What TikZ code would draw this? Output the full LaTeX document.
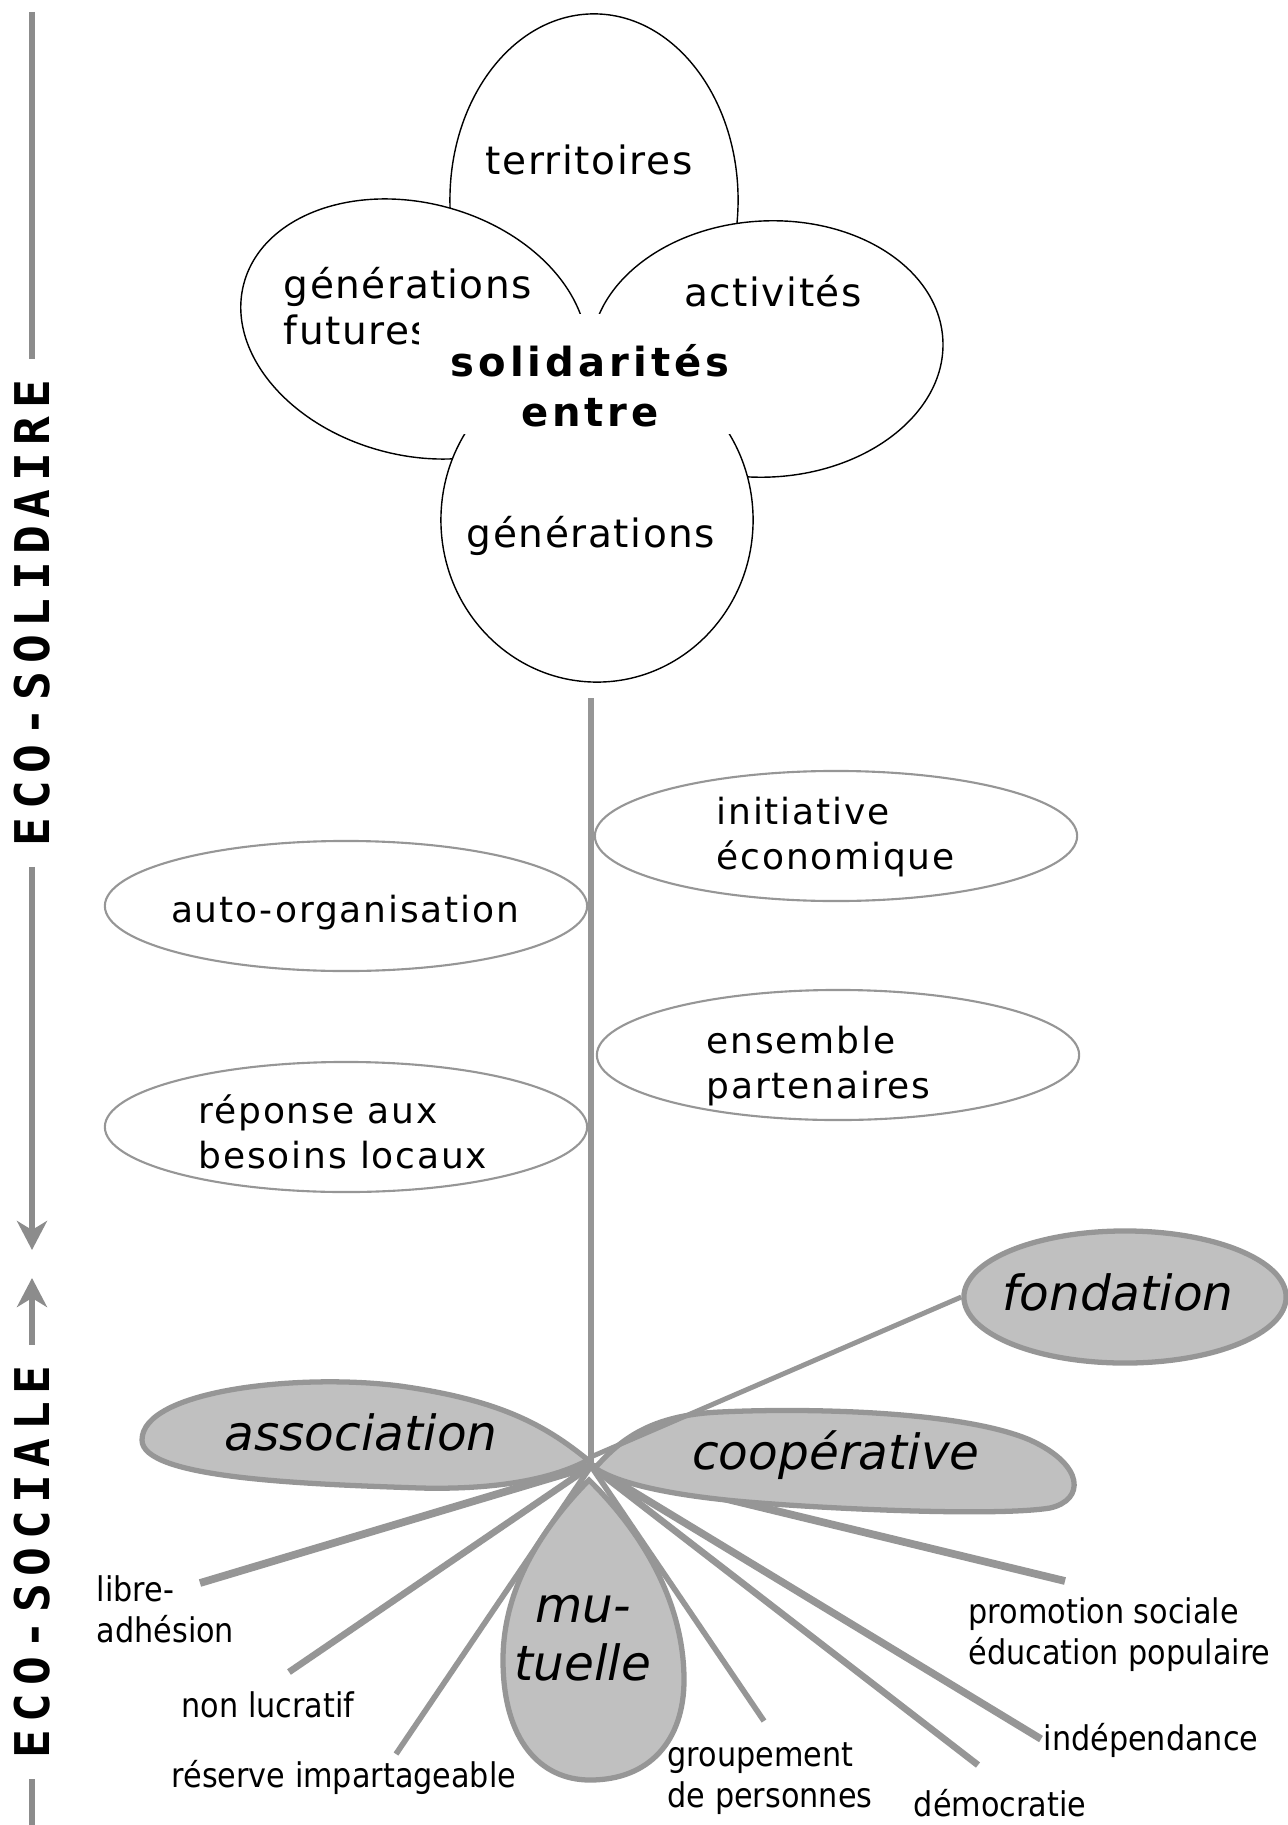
\documentclass[tikz,border=0pt]{standalone}
\usepackage{fontspec}
\setmainfont{DejaVu Sans}
\newfontfamily\flowerfont{DejaVu Sans}[LetterSpace=4]
\newfontfamily\heartfont{DejaVu Sans}[LetterSpace=10]
\newfontfamily\leaffont{DejaVu Sans}[LetterSpace=5]
\newfontfamily\rootfont{DejaVu Sans}[FakeStretch=0.89]
\newfontfamily\sidefont{DejaVu Sans Mono}[LetterSpace=16]
\usetikzlibrary{shapes.geometric, arrows.meta, positioning}
\definecolor{stemgray}{RGB}{150,150,150}
\definecolor{lobegray}{RGB}{192,192,192}
\definecolor{bargray}{RGB}{140,140,140}
\tikzset{
    petal/.style={ellipse, draw=black, line width=0.4pt, fill=white, inner sep=0pt},
    cover/.style={rectangle, fill=white, inner sep=0pt, minimum width=3.25cm, minimum height=1.20cm},
    petaltext/.style={inner sep=0pt, align=left, font=\flowerfont\fontsize{11.1}{13.1}\selectfont},
    heart/.style={inner sep=0pt, align=center, font=\heartfont\bfseries\fontsize{11.4}{14.2}\selectfont},
    leaf/.style={ellipse, draw=stemgray, line width=0.6pt, fill=white, inner sep=0pt,
        minimum width=4.82cm, minimum height=1.30cm},
    leaftext/.style={inner sep=0pt, align=left, font=\leaffont\fontsize{10.24}{12.8}\selectfont},
    stem/.style={draw=stemgray, line width=1.7pt},
    root/.style={draw=stemgray, line width=1.9pt},
    lobe/.style={draw=stemgray, line width=1.5pt, fill=lobegray},
    lobetext/.style={inner sep=0pt, align=center, font=\itshape\fontsize{13.8}{16.5}\selectfont},
    roottext/.style={inner sep=0pt, align=left, font=\rootfont\fontsize{9.67}{11.7}\selectfont},
    bar/.style={draw=bargray, line width=1.85pt},
    side/.style={rotate=90, inner sep=2mm, font=\sidefont\bfseries\fontsize{13.6}{15}\selectfont},
}

\begin{document}
\begin{tikzpicture}[x=0.01cm, y=-0.01cm]
    \useasboundingbox (0,0) rectangle (1287,1825);

    % scale on the left
    \coordinate (bartop) at (32,12);
    \coordinate (barbot) at (32,1825);
    \coordinate (downtip) at (32,1250);
    \coordinate (uptip) at (32,1278);
    \node[side] (ecosol) at (32,613) {ECO-SOLIDAIRE};
    \node[side] (ecosoc) at (32,1562) {ECO-SOCIALE};

    \draw[bar] (bartop) -- (ecosol);
    \draw[bar, -{Stealth[length=0.29cm, width=0.30cm, inset=0.09cm]}] (ecosol) -- (downtip);
    \draw[bar, -{Stealth[length=0.29cm, width=0.30cm, inset=0.09cm]}] (ecosoc) -- (uptip);
    \draw[bar] (ecosoc) -- (barbot);

    % flower
    \node[petal, minimum width=2.88cm, minimum height=3.72cm] (territoires) at (594,200) {};
    \node[petal, minimum width=3.52cm, minimum height=2.52cm, rotate=-15] (futures) at (414,329) {};
    \node[petal, minimum width=3.52cm, minimum height=2.56cm, rotate=3] (activites) at (767,349) {};
    \node[petal, minimum width=3.12cm, minimum height=3.24cm] (generations) at (597,520) {};

    \node[petaltext] (territoirestext) at (589,160) {territoires};
    \node[petaltext, anchor=west] (futurestext) at (283,306) {générations\\futures};
    \node[petaltext] (activitestext) at (773,291) {activités};
    \node[petaltext] (generationstext) at (591,536) {générations};

    \node[cover] (coeur) at (582,374) {};
    \node[heart] (solidarites) at (590,386) {solidarités\\entre};

    % stem and leaves
    \coordinate (stemtop) at (591,698);
    \coordinate (base) at (591,1466);
    \coordinate (fork) at (593,1456);
    \draw[stem] (stemtop) -- (base);

    \node[leaf] (initiative) at (836,836) {};
    \node[leaf] (auto) at (346,906) {};
    \node[leaf] (ensemble) at (838,1055) {};
    \node[leaf] (reponse) at (346,1127) {};

    \node[leaftext, anchor=west] (initiativetext) at (716,837) {initiative\\économique};
    \node[leaftext] (autotext) at (345,913) {auto-organisation};
    \node[leaftext, anchor=west] (ensembletext) at (706,1066) {ensemble\\partenaires};
    \node[leaftext, anchor=west] (reponsetext) at (198,1132) {réponse aux\\besoins locaux};

    % roots
    \coordinate (libreend) at (200,1583);
    \coordinate (lucratifend) at (289,1672);
    \coordinate (reserveend) at (396,1754);
    \coordinate (groupementend) at (764,1721);
    \coordinate (democratieend) at (978,1765);
    \coordinate (independanceend) at (1041,1739);
    \coordinate (promotionend) at (1065,1581);

    \draw[root, line width=2.2pt] (base) -- (libreend);
    \draw[root, line width=1.9pt] (base) -- (lucratifend);
    \draw[root, line width=1.6pt] (base) -- (reserveend);
    \draw[root, line width=1.6pt] (base) -- (groupementend);
    \draw[root, line width=1.9pt] (base) -- (democratieend);
    \draw[root, line width=2.1pt] (base) -- (independanceend);
    \draw[root, line width=2.2pt] (base) -- (promotionend);

    % lobes
    \draw[lobe] (588,1460) .. controls (545,1425) and (500,1400) .. (400,1386)
        .. controls (300,1373) and (142,1390) .. (142,1440)
        .. controls (142,1478) and (300,1484) .. (420,1488)
        .. controls (500,1490) and (555,1478) .. cycle;
    \draw[lobe] (595,1468) .. controls (620,1440) and (650,1415) .. (720,1412)
        .. controls (800,1408) and (960,1410) .. (1030,1440)
        .. controls (1085,1465) and (1085,1500) .. (1050,1508)
        .. controls (1000,1516) and (850,1510) .. (760,1503)
        .. controls (680,1497) and (620,1485) .. cycle;
    \draw[lobe] (589,1480) .. controls (540,1530) and (503,1590) .. (503,1660)
        .. controls (503,1740) and (540,1780) .. (590,1780)
        .. controls (650,1780) and (684,1740) .. (684,1680)
        .. controls (684,1600) and (640,1530) .. cycle;

    \node[lobe, ellipse, inner sep=0pt, minimum width=3.22cm, minimum height=1.32cm] (fondation) at (1125,1297) {};
    \draw[root, line width=1.4pt] (fork) -- (fondation.west);

    \node[lobetext] (association) at (361,1432) {association};
    \node[lobetext] (cooperative) at (836,1455) {coopérative};
    \node[lobetext] (mutuelle) at (583,1638) {mu-\\tuelle};
    \node[lobetext] (fondationtext) at (1118,1292) {fondation};

    % root labels
    \node[roottext, anchor=west] (libre) at (96,1609) {libre-\\adhésion};
    \node[roottext] (lucratif) at (268,1705) {non lucratif};
    \node[roottext] (reserve) at (344,1777) {réserve impartageable};
    \node[roottext, anchor=west] (groupement) at (667,1779) {groupement\\de personnes};
    \node[roottext] (democratie) at (1000,1803) {démocratie};
    \node[roottext] (independance) at (1151,1740) {indépendance};
    \node[roottext, anchor=west] (promotion) at (968,1635) {promotion sociale\\éducation populaire};
\end{tikzpicture}
\end{document}
